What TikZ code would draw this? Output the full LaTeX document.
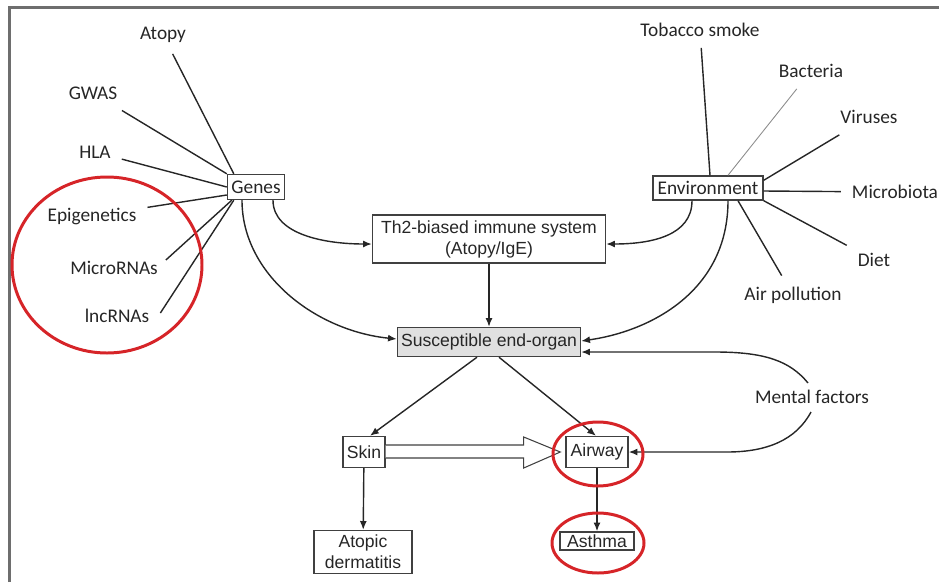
\documentclass[tikz,border=0pt]{standalone}
\usepackage{fontspec}
\setmainfont{Liberation Sans}
\newfontfamily\calibri{Carlito}
\usetikzlibrary{arrows.meta,positioning,calc}
\definecolor{ringred}{RGB}{214,36,40}
\definecolor{framegray}{RGB}{110,110,110}
\tikzset{
	>={Latex[length=5pt,width=4pt]}, % small filled heads
	factor/.style={font=\calibri\fontsize{11}{13}\selectfont, outer sep=3pt},
	organ/.style={draw=black!75, font=\fontsize{10}{12}\selectfont, inner sep=0pt, align=center},
	genebox/.style={organ, font=\calibri\fontsize{11}{13}\selectfont},
	ring/.style={draw=ringred, line width=1.7pt},
	hollow/.style={draw=black!75, fill=white, line width=0.6pt, line join=miter},
}

\begin{document}
\begin{tikzpicture}[x=0.2mm, y=-0.2mm, line width=0.8pt, color=black!85]
        \useasboundingbox (0,0) rectangle (939,582);
        \draw[framegray, line width=1.2pt] (9.5,582) |- (939,7.5);

        % genetic side
        \node[factor] (atopy) at (163,35) {Atopy};
        \node[factor] (gwas) at (93,93) {GWAS};
        \node[factor] (hla) at (95,152) {HLA};
        \node[factor] (epi) at (92,216) {Epigenetics};
        \node[factor] (mirna) at (114,268) {MicroRNAs};
        \node[factor] (lncrna) at (117,316) {lncRNAs};
        \node[genebox, minimum width=1.14cm, minimum height=0.5cm] (genes) at (256,187) {Genes};

        % environmental side
        \node[factor] (tobacco) at (700,30) {Tobacco smoke};
        \node[factor] (bacteria) at (811,71) {Bacteria};
        \node[factor] (viruses) at (869,117) {Viruses};
        \node[factor] (microbiota) at (895,192) {Microbiota};
        \node[factor] (diet) at (874,260) {Diet};
        \node[factor] (airpol) at (793,295) {Air pollution};
        \node[genebox, minimum width=2.2cm, minimum height=0.48cm] (env) at (708,188) {Environment};
        \node[factor] (mental) at (812,397) {Mental factors};

        % organs
        \node[organ, minimum width=4.66cm, minimum height=0.96cm] (th2) at (489,239) {Th2-biased immune system\\(Atopy/IgE)};
        \node[organ, fill=black!12, minimum width=3.66cm, minimum height=0.58cm] (susc) at (489,342) {Susceptible end-organ};
        \node[organ, minimum width=0.84cm, minimum height=0.62cm] (skin) at (364,452) {Skin};
        \node[organ, minimum width=1.24cm, minimum height=0.62cm] (airway) at (597,452) {Airway};
        \node[organ, minimum width=1.48cm, minimum height=0.36cm] (asthma) at (597,541) {Asthma};
        \node[organ, minimum width=1.96cm, minimum height=0.86cm] (ad) at (363,552) {Atopic\\dermatitis};

        \draw (atopy) -- ($(genes.north west)+(7,0)$);
        \draw (gwas) -- (genes.north west);
        \draw (hla) -- (genes.west);
        \draw (epi) -- ($(genes.west)+(0,8)$);
        \draw ($(mirna.east)+(-3,-8)$) -- ($(genes.south west)+(5,0)$);
        \draw ($(lncrna.east)+(0,-3)$) -- ($(genes.south west)+(7,0)$);

        \draw (tobacco) -- ($(env.north)+(2,0)$);
        \draw[black!45, line width=0.5pt] (bacteria) -- ($(env.north)+(20,0)$);
        \draw (viruses) -- ($(env.north east)+(0,5)$);
        \draw (microbiota) -- ($(env.east)+(0,3)$);
        \draw (diet) -- (env.south east);
        \draw (airpol) -- ($(env.south)+(30,0)$);

        \draw[->] ($(genes.south)+(17,0)$) .. controls +(0,35) and +(-45,0) .. ($(th2.west)+(0,5)$);
        \draw[->] ($(genes.south)+(-14,0)$) .. controls +(0,75) and +(-80,-8) .. ($(susc.west)+(0,-3)$);
        \draw[->] ($(env.south)+(-16,0)$) .. controls +(0,35) and +(45,0) .. ($(th2.east)+(0,5)$);
        \draw[->] ($(env.south)+(20,0)$) .. controls +(0,90) and +(70,-10) .. ($(susc.east)+(0,-1)$);

        \draw[->] (th2) -- (susc);
        \draw[->] ($(susc.south)+(-12,0)$) -- ($(skin.north)+(6,0)$);
        \draw[->] ($(susc.south)+(10,0)$) -- ($(airway.north)+(-1,0)$);
        \draw[->] (skin) -- (ad);
        \draw[->] (airway) -- (asthma);

        \draw[->] ($(mental)+(-4,-14)$) .. controls +(-18,-22) and +(50,0) .. ++(-93,-31) -- ($(susc.east)+(0,10)$);
        \draw[->] ($(mental)+(-1,15)$) .. controls +(-15,28) and +(40,0) .. ++(-84,40) -- (airway.east);

        \draw[hollow] ($(skin.east)+(0,-7)$) -- ($(skin.east)+(138,-7)$) -- ($(skin.east)+(138,-15)$)
            -- ($(airway.west)+(-5,0)$) -- ($(skin.east)+(138,16)$) -- ($(skin.east)+(138,6)$) -- ($(skin.east)+(0,6)$);

        \draw[ring] ($(mirna)+(-7,-3)$) ellipse (95 and 88);
        \draw[ring] ($(airway)+(1,2)$) ellipse (45 and 32);
        \draw[ring] ($(asthma)+(1,2)$) ellipse (46 and 30);
    \end{tikzpicture}
\end{document}
